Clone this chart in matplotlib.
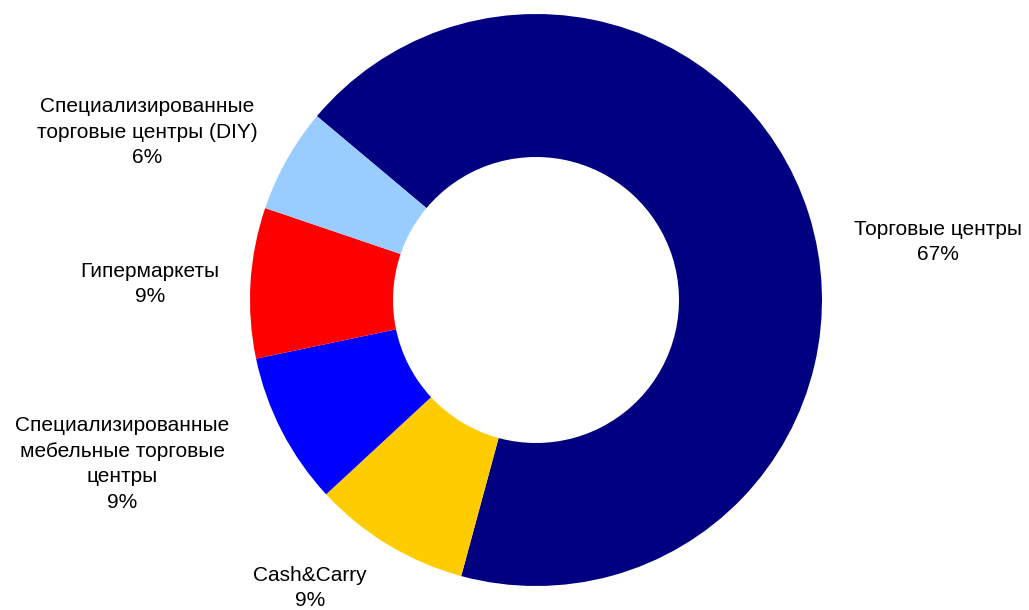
import numpy as np
import matplotlib.pyplot as plt

plt.rcParams['font.family'] = ['Liberation Sans', 'DejaVu Sans']

categories = ['Торговые центры', 'Cash&Carry',
              'Специализированные\nмебельные торговые\nцентры',
              'Гипермаркеты',
              'Специализированные\nторговые центры (DIY)']
shares = [68.1, 8.9, 8.6, 8.5, 5.9]
pct_labels = ['67%', '9%', '9%', '9%', '6%']
colors = ['#000080', '#FFCC00', '#0000FF', '#FF0000', '#99CCFF']

# label anchor points in pixel coords (x, y from top)
label_pos = [(938, 242), (310, 588), (122, 464), (150, 284), (147, 132)]

fig = plt.figure(figsize=(10.29, 6.10), dpi=100)
ax = fig.add_axes([0, 0, 1, 1])

cx, cy, r = 536, 610 - 300, 286
ax.pie(shares, colors=colors, center=(cx, cy), radius=r,
       startangle=140, counterclock=False, frame=True,
       wedgeprops=dict(width=r * 0.5, linewidth=0))
ax.set_xlim(0, 1029)
ax.set_ylim(0, 610)
ax.axis('off')

for name, pct, (x, y) in zip(categories, pct_labels, label_pos):
    ax.text(x, 610 - y, f"{name}\n{pct}", ha='center', va='center',
            fontsize=15, linespacing=1.45, color='black')

fig.savefig('out.png', dpi=100)
